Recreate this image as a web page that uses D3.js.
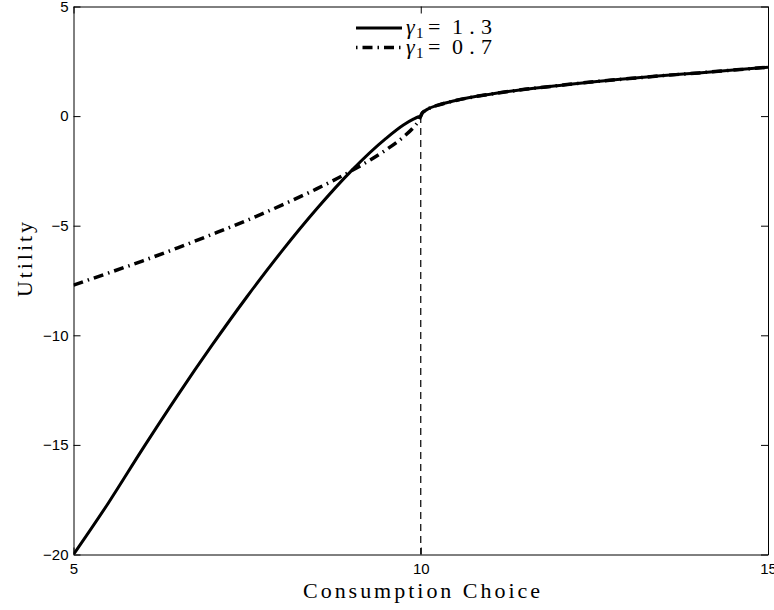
<!DOCTYPE html>
<html>
<head>
<meta charset="utf-8">
<script src="https://cdn.jsdelivr.net/npm/d3@7"></script>
<style>
  body { margin: 0; background: #fff; }
  .axis text { font-family: "Liberation Sans", Arial, sans-serif; font-size: 15px; fill: #000; }
  .axis path, .axis line { stroke: #000; stroke-width: 1; }
</style>
</head>
<body>
<div id="chart"></div>
<script>
// consumption choices below / above the reference point (10)
var xLoss = [5, 5.5, 6, 6.5, 7, 7.5, 8, 8.5, 9, 9.5, 9.75, 9.9, 9.97, 10];
var lossG13 = [-20, -17.66, -15.16, -12.74, -10.43, -8.23, -6.16, -4.24, -2.5, -1.02, -0.41, -0.13, -0.03, 0];
var lossG07 = [-7.71, -7.16, -6.6, -6.01, -5.39, -4.75, -4.06, -3.32, -2.5, -1.54, -0.95, -0.5, -0.21, 0];
var xGain = [10, 10.02, 10.05, 10.1, 10.25, 10.5, 11, 11.5, 12, 12.5, 13, 13.5, 14, 14.5, 15];
var gain = [0, 0.14, 0.22, 0.32, 0.5, 0.71, 1.0, 1.22, 1.4, 1.57, 1.71, 1.85, 1.97, 2.1, 2.23];
var refPoint = 10;
var xTicks = [5, 10, 15];
var yTicks = [-20, -15, -10, -5, 0, 5];
var legendLabels = ["1.3", "0.7"];

var W = 774, H = 610;
var margin = {top: 6.5, right: 6, bottom: 55.5, left: 73.5},
    width = W - margin.left - margin.right,
    height = H - margin.top - margin.bottom;

var svg = d3.select("#chart")
  .append("svg")
    .attr("width", W)
    .attr("height", H)
    .style("font-family", "'Liberation Serif', serif");

var g = svg.append("g")
    .attr("transform", "translate(" + margin.left + "," + margin.top + ")");

var x = d3.scaleLinear().domain([5, 15]).range([0, width]);
var y = d3.scaleLinear().domain([-20, 5]).range([height, 0]);

var fmt = function(d) { return d < 0 ? "\u2212" + Math.abs(d) : d; };

g.append("g").attr("class", "axis")
  .attr("transform", "translate(0," + height + ")")
  .call(d3.axisBottom(x).tickValues(xTicks).tickFormat(fmt).tickSizeInner(-7).tickSizeOuter(0).tickPadding(9));
g.append("g").attr("class", "axis")
  .call(d3.axisLeft(y).tickValues(yTicks).tickFormat(fmt).tickSizeInner(-7).tickSizeOuter(0).tickPadding(5));
g.append("g").attr("class", "axis")
  .call(d3.axisTop(x).tickValues(xTicks).tickFormat("").tickSizeInner(-7).tickSizeOuter(0));
g.append("g").attr("class", "axis")
  .attr("transform", "translate(" + width + ",0)")
  .call(d3.axisRight(y).tickValues(yTicks).tickFormat("").tickSizeInner(-7).tickSizeOuter(0));

// vertical reference line
g.append("line")
  .attr("x1", x(refPoint)).attr("x2", x(refPoint))
  .attr("y1", y(0)).attr("y2", y(-20))
  .attr("stroke", "#000").attr("stroke-width", 1.2)
  .attr("stroke-dasharray", "7,5");

var line = d3.line()
  .x(function(d) { return x(d[0]); })
  .y(function(d) { return y(d[1]); })
  .curve(d3.curveMonotoneX);

var gainPts = d3.zip(xGain, gain);
var low = d3.zip(xLoss, lossG07).concat(gainPts.slice(1));
var high = d3.zip(xLoss, lossG13).concat(gainPts.slice(1));

g.append("clipPath").attr("id", "clip").append("rect")
  .attr("width", width).attr("height", height);

g.append("path").datum(low)
  .attr("clip-path", "url(#clip)")
  .attr("fill", "none").attr("stroke", "#000").attr("stroke-width", 3.5)
  .attr("stroke-dasharray", "10,5,1.5,5")
  .attr("d", line);

g.append("path").datum(high)
  .attr("clip-path", "url(#clip)")
  .attr("fill", "none").attr("stroke", "#000").attr("stroke-width", 3)
  .attr("d", line);

// legend
var leg = svg.append("g").attr("transform", "translate(356,28)");
legendLabels.forEach(function(lab, i) {
  var row = leg.append("g").attr("transform", "translate(0," + (i * 19.5) + ")");
  row.append("line")
    .attr("x1", 0).attr("x2", 46).attr("y1", 0).attr("y2", 0)
    .attr("stroke", "#000")
    .attr("stroke-width", i == 0 ? 3 : 3.5)
    .attr("stroke-dasharray", i == 0 ? null : "1.5,5,10,5");
  row.append("text").attr("x", 50).attr("y", 6)
    .style("font-size", "22px").style("font-style", "italic")
    .text("\u03b3");
  row.append("text").attr("x", 60).attr("y", 10)
    .style("font-size", "15px")
    .text("1");
  row.append("text").attr("x", 72).attr("y", 6)
    .style("font-size", "22px")
    .text("=");
  row.append("text").attr("x", 96).attr("y", 6)
    .attr("textLength", 40).attr("lengthAdjust", "spacing")
    .style("font-size", "22px")
    .text(lab);
});

// axis titles
svg.append("text")
  .attr("x", 303).attr("y", 598)
  .attr("textLength", 237).attr("lengthAdjust", "spacing")
  .style("font-size", "22px")
  .text("Consumption Choice");

svg.append("text")
  .attr("transform", "translate(32,297) rotate(-90)")
  .attr("textLength", 75).attr("lengthAdjust", "spacing")
  .style("font-size", "22px")
  .text("Utility");
</script>
</body>
</html>
